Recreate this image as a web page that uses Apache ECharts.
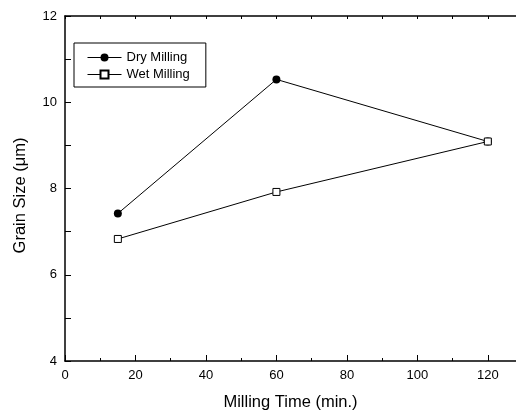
<!DOCTYPE html>
<html>
<head>
<meta charset="utf-8">
<script src="https://cdn.jsdelivr.net/npm/echarts@6/dist/echarts.min.js"></script>
<style>
html,body{margin:0;padding:0;background:#fff;overflow:hidden;}
#chart{width:516px;height:415px;}
</style>
</head>
<body>
<div id="chart"></div>
<script>
var millingTime = [15, 60, 120];
var dryMilling = [7.42, 10.53, 9.09];
var wetMilling = [6.83, 7.92, 9.09];
var seriesNames = ['Dry Milling', 'Wet Milling'];
var xTitle = 'Milling Time (min.)';
var yTitle = 'Grain Size (\u03bcm)';

function pairs(xs, ys) {
  return xs.map(function (x, i) { return [x, ys[i]]; });
}

var FONT = '"Liberation Sans", Arial, Helvetica, sans-serif';
var chart = echarts.init(document.getElementById('chart'), null, {renderer: 'canvas'});
chart.setOption({
  animation: false,
  backgroundColor: '#fff',
  grid: {left: 65, top: 16, right: 0, bottom: 54, containLabel: false, outerBoundsMode: 'none'},
  legend: {
    left: 74, top: 43,
    orient: 'vertical',
    data: seriesNames,
    itemWidth: 34, itemHeight: 10, itemGap: 4,
    padding: [8, 16, 6, 13],
    borderColor: '#000', borderWidth: 1,
    lineStyle: {width: 1},
    textStyle: {fontFamily: FONT, fontSize: 13, color: '#000'}
  },
  xAxis: [{
    type: 'value', min: 0, max: 128, interval: 20,
    position: 'bottom',
    name: xTitle, nameLocation: 'middle', nameGap: 33, nameMoveOverlap: false,
    nameTextStyle: {fontFamily: FONT, fontSize: 16.5, color: '#000'},
    axisLine: {show: true, lineStyle: {color: '#000', width: 1.5}},
    axisTick: {show: true, inside: true, length: 6, lineStyle: {color: '#000', width: 1}},
    minorTick: {show: true, splitNumber: 2, length: 3, lineStyle: {color: '#000', width: 1}},
    axisLabel: {fontFamily: FONT, fontSize: 13, color: '#000', margin: 8,
      formatter: function (v) { return v > 120 ? '' : String(v); }},
    splitLine: {show: false}
  }, {
    type: 'value', min: 0, max: 128, interval: 10,
    position: 'top',
    axisLine: {show: true, lineStyle: {color: '#000', width: 1.5}},
    axisTick: {show: true, inside: true, length: 3, lineStyle: {color: '#000', width: 1}},
    axisLabel: {show: false},
    splitLine: {show: false}
  }],
  yAxis: {
    type: 'value', min: 4, max: 12, interval: 2,
    name: yTitle, nameLocation: 'middle', nameGap: 36, nameMoveOverlap: false,
    nameTextStyle: {fontFamily: FONT, fontSize: 16.5, color: '#000', padding: [0, 0, 0, -14]},
    axisLine: {show: true, lineStyle: {color: '#000', width: 1.5}},
    axisTick: {show: true, inside: true, length: 6, lineStyle: {color: '#000', width: 1}},
    minorTick: {show: true, splitNumber: 2, length: 6, lineStyle: {color: '#000', width: 1}},
    axisLabel: {fontFamily: FONT, fontSize: 13, color: '#000', margin: 8},
    splitLine: {show: false}
  },
  series: [{
    name: seriesNames[0], type: 'line',
    xAxisIndex: 0,
    data: pairs(millingTime, dryMilling),
    symbol: 'circle', symbolSize: 8,
    clip: false,
    itemStyle: {color: '#000'},
    lineStyle: {color: '#000', width: 1}
  }, {
    name: seriesNames[1], type: 'line',
    xAxisIndex: 0,
    data: pairs(millingTime, wetMilling),
    symbol: 'rect', symbolSize: 7,
    clip: false,
    itemStyle: {color: '#fff', borderColor: '#000', borderWidth: 1},
    lineStyle: {color: '#000', width: 1}
  }]
});
</script>
</body>
</html>
